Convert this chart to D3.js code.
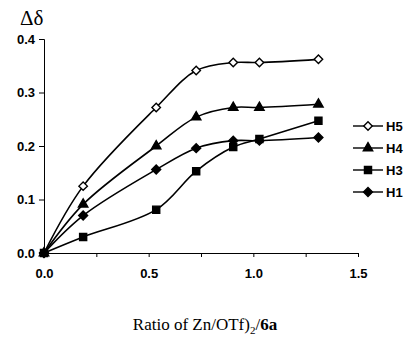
<!DOCTYPE html>
<html>
<head>
<meta charset="utf-8">
<script src="https://cdn.jsdelivr.net/npm/d3@7"></script>
<style>
  body { margin: 0; background: #fff; }
  .tick text { font-family: "Liberation Sans", Arial, sans-serif; font-weight: bold; font-size: 13px; }
</style>
</head>
<body>
<div id="chart"></div>
<script>
// data
const ratios = [0, 0.187, 0.536, 0.727, 0.904, 1.029, 1.311];
const h5 = [0, 0.125, 0.272, 0.341, 0.356, 0.356, 0.362];
const h4 = [0, 0.091, 0.200, 0.254, 0.272, 0.272, 0.278];
const h3 = [0, 0.030, 0.081, 0.153, 0.198, 0.213, 0.247];
const h1 = [0, 0.070, 0.156, 0.196, 0.210, 0.210, 0.216];
const seriesNames = ["H5", "H4", "H3", "H1"];
const xTicks = [0, 0.25, 0.5, 0.75, 1.0, 1.25, 1.5];
const xLabels = [0, 0.5, 1.0, 1.5];
const yTicks = [0, 0.1, 0.2, 0.3, 0.4];

const W = 409, H = 341;
const margin = {top: 39, left: 44, right: 51, bottom: 88};

const svg = d3.select("#chart").append("svg")
  .attr("width", W).attr("height", H);

const x = d3.scaleLinear().domain([0, 1.5]).range([margin.left, W - margin.right]);
const y = d3.scaleLinear().domain([0, 0.4]).range([H - margin.bottom, margin.top]);

// axes
const xAxis = svg.append("g")
  .attr("transform", `translate(0,${y(0)})`)
  .call(d3.axisBottom(x).tickValues(xTicks).tickSize(4).tickPadding(12)
    .tickFormat(d => xLabels.includes(d) ? d3.format(".1f")(d) : ""));
const yAxis = svg.append("g")
  .attr("transform", `translate(${x(0)},0)`)
  .call(d3.axisLeft(y).tickValues(yTicks).tickSize(5).tickPadding(4).tickFormat(d3.format(".1f")));
[xAxis, yAxis].forEach(a => {
  a.select(".domain").attr("stroke", "#000").attr("stroke-width", 1);
  a.selectAll(".tick line").attr("stroke", "#000");
  a.selectAll(".tick text").attr("fill", "#000");
});

// square diamond (rotated square)
const rhomb = {
  draw(ctx, size) {
    const r = Math.sqrt(size / 2);
    ctx.moveTo(0, -r); ctx.lineTo(r, 0); ctx.lineTo(0, r); ctx.lineTo(-r, 0); ctx.closePath();
  }
};

const series = [
  {name: seriesNames[0], vals: h5, shape: rhomb, fill: "#fff", size: 36},
  {name: seriesNames[1], vals: h4, shape: d3.symbolTriangle, fill: "#000", size: 38},
  {name: seriesNames[2], vals: h3, shape: d3.symbolSquare, fill: "#000", size: 50},
  {name: seriesNames[3], vals: h1, shape: rhomb, fill: "#000", size: 40}
];

const line = d3.line()
  .x(d => x(d[0])).y(d => y(d[1]))
  .curve(d3.curveCatmullRom.alpha(0.5));

series.forEach(s => {
  const pts = ratios.map((r, i) => [r, s.vals[i]]);
  svg.append("path")
    .datum(pts)
    .attr("d", line)
    .attr("fill", "none")
    .attr("stroke", "#000")
    .attr("stroke-width", 1.6);
  svg.selectAll(null)
    .data(pts)
    .enter().append("path")
    .attr("transform", d => `translate(${x(d[0])},${y(d[1])})`)
    .attr("d", d3.symbol().type(s.shape).size(s.size))
    .attr("fill", s.fill)
    .attr("stroke", "#000")
    .attr("stroke-width", 1.4);
});

// legend
const legend = svg.append("g").attr("transform", "translate(353,126)");
series.forEach((s, i) => {
  const g = legend.append("g").attr("transform", `translate(0,${i * 22})`);
  g.append("line").attr("x1", 0).attr("x2", 30).attr("y1", 0).attr("y2", 0)
    .attr("stroke", "#000").attr("stroke-width", 1.4);
  g.append("path").attr("transform", "translate(15,0)")
    .attr("d", d3.symbol().type(s.shape).size(s.size))
    .attr("fill", s.fill).attr("stroke", "#000").attr("stroke-width", 1.4);
  g.append("text").attr("x", 33).attr("y", 5)
    .attr("font-family", "Liberation Sans, Arial, sans-serif")
    .attr("font-weight", "bold").attr("font-size", 13)
    .text(s.name);
});

// y title
svg.append("text")
  .attr("x", 20).attr("y", 25)
  .attr("font-family", "Liberation Serif, Times New Roman, serif")
  .attr("font-size", 21)
  .text("Δδ");

// x title
const xt = svg.append("text")
  .attr("x", 205).attr("y", 330)
  .attr("text-anchor", "middle")
  .attr("font-family", "Liberation Serif, Times New Roman, serif")
  .attr("font-size", 17);
xt.append("tspan").text("Ratio of Zn/OTf)");
xt.append("tspan").attr("font-size", 11).attr("dy", 4).text("2");
xt.append("tspan").attr("dy", -4).text("/");
xt.append("tspan").attr("font-weight", "bold").text("6a");
</script>
</body>
</html>
